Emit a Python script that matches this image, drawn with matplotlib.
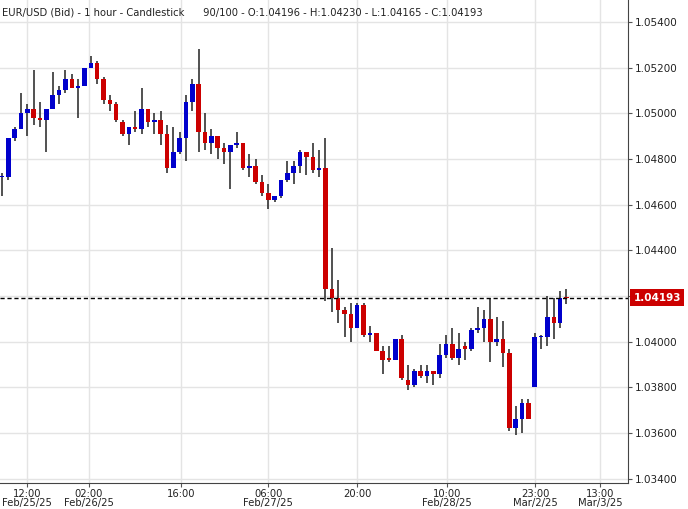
import numpy as np
import matplotlib
matplotlib.use("Agg")
import matplotlib.pyplot as plt

# -----------------------------
# Data (hourly candles)
# -----------------------------
opens = [1.0472, 1.0472, 1.0489, 1.0493, 1.0500, 1.0502, 1.0498, 1.0497, 1.0502, 1.0508,
         1.0510, 1.0515, 1.0511, 1.0512, 1.0520, 1.0522, 1.0515, 1.0506, 1.0504, 1.0496,
         1.0491, 1.0494, 1.0493, 1.0502, 1.0496, 1.0497, 1.0491, 1.0476, 1.0483, 1.0489,
         1.0505, 1.0513, 1.0492, 1.0487, 1.0490, 1.0485, 1.0483, 1.0486, 1.0487, 1.0476,
         1.0477, 1.0470, 1.0465, 1.0462, 1.0464, 1.0471, 1.0474, 1.0477, 1.0483, 1.0481,
         1.0475, 1.0476, 1.0423, 1.0419, 1.0414, 1.0412, 1.0406, 1.0416, 1.0403, 1.0404,
         1.0396, 1.0393, 1.0392, 1.0401, 1.0383, 1.0381, 1.0387, 1.0385, 1.0387, 1.0386,
         1.0394, 1.0399, 1.0393, 1.0398, 1.0397, 1.0405, 1.0406, 1.0410, 1.0400, 1.0401,
         1.0395, 1.0362, 1.0366, 1.0373, 1.0380, 1.0402, 1.0402, 1.0411, 1.0408, 1.04196]
highs = [1.0474, 1.0489, 1.0494, 1.0509, 1.0504, 1.0519, 1.0505, 1.0502, 1.0518, 1.0512,
         1.0519, 1.0517, 1.0515, 1.0520, 1.0525, 1.0523, 1.0516, 1.0508, 1.0505, 1.0497,
         1.0494, 1.0501, 1.0511, 1.0502, 1.0500, 1.0501, 1.0495, 1.0494, 1.0492, 1.0508,
         1.0515, 1.0528, 1.0500, 1.0493, 1.0490, 1.0487, 1.0486, 1.0492, 1.0487, 1.0482,
         1.0480, 1.0473, 1.0469, 1.0464, 1.0471, 1.0479, 1.0479, 1.0484, 1.0483, 1.0487,
         1.0484, 1.0489, 1.0441, 1.0427, 1.0415, 1.0417, 1.0417, 1.0417, 1.0407, 1.0404,
         1.0398, 1.0398, 1.0401, 1.0403, 1.0390, 1.0388, 1.0390, 1.0390, 1.0387, 1.0399,
         1.0403, 1.0406, 1.0404, 1.0400, 1.0406, 1.0415, 1.0414, 1.0419, 1.0411, 1.0409,
         1.0397, 1.0372, 1.0375, 1.0375, 1.0404, 1.0403, 1.0420, 1.0419, 1.0422, 1.04230]
lows = [1.0464, 1.0471, 1.0488, 1.0493, 1.0490, 1.0495, 1.0494, 1.0483, 1.0502, 1.0504,
        1.0509, 1.0511, 1.0498, 1.0512, 1.0520, 1.0513, 1.0504, 1.0501, 1.0496, 1.0490,
        1.0486, 1.0492, 1.0491, 1.0494, 1.0491, 1.0486, 1.0474, 1.0476, 1.0482, 1.0479,
        1.0501, 1.0483, 1.0484, 1.0482, 1.0480, 1.0478, 1.0467, 1.0485, 1.0475, 1.0472,
        1.0469, 1.0464, 1.0458, 1.0461, 1.0463, 1.0470, 1.0469, 1.0474, 1.0473, 1.0474,
        1.0472, 1.0418, 1.0413, 1.0408, 1.0402, 1.0400, 1.0406, 1.0402, 1.0400, 1.0396,
        1.0386, 1.0391, 1.0392, 1.0383, 1.0379, 1.0380, 1.0384, 1.0382, 1.0381, 1.0384,
        1.0393, 1.0392, 1.0390, 1.0392, 1.0396, 1.0404, 1.0400, 1.0391, 1.0398, 1.0389,
        1.0361, 1.0359, 1.0360, 1.0366, 1.0380, 1.0397, 1.0398, 1.0401, 1.0406, 1.04165]
closes = [1.0472, 1.0489, 1.0493, 1.0500, 1.0502, 1.0498, 1.0497, 1.0502, 1.0508, 1.0510,
          1.0515, 1.0511, 1.0512, 1.0520, 1.0522, 1.0515, 1.0506, 1.0504, 1.0497, 1.0491,
          1.0494, 1.0493, 1.0502, 1.0496, 1.0497, 1.0491, 1.0476, 1.0483, 1.0489, 1.0505,
          1.0513, 1.0492, 1.0487, 1.0490, 1.0485, 1.0483, 1.0486, 1.0487, 1.0476, 1.0477,
          1.0470, 1.0465, 1.0462, 1.0464, 1.0471, 1.0474, 1.0477, 1.0483, 1.0481, 1.0475,
          1.0476, 1.0423, 1.0419, 1.0414, 1.0412, 1.0406, 1.0416, 1.0403, 1.0404, 1.0396,
          1.0392, 1.0392, 1.0401, 1.0384, 1.0381, 1.0387, 1.0385, 1.0387, 1.0386, 1.0394,
          1.0399, 1.0393, 1.0397, 1.0397, 1.0405, 1.0406, 1.0410, 1.0400, 1.0401, 1.0395,
          1.0362, 1.0366, 1.0373, 1.0366, 1.0402, 1.0402, 1.0411, 1.0408, 1.0419, 1.04193]

last_price = 1.04193
title_text = "EUR/USD (Bid) - 1 hour - Candlestick      90/100 - O:1.04196 - H:1.04230 - L:1.04165 - C:1.04193"

# x tick positions (candle index) and labels
xtick_pos = [3.9, 13.7, 28.2, 42.0, 56.0, 70.1, 84.1, 94.3]
xtick_labels = ["12:00\nFeb/25/25", "02:00\nFeb/26/25", "16:00", "06:00\nFeb/27/25",
                "20:00", "10:00\nFeb/28/25", "23:00\nMar/2/25", "13:00\nMar/3/25"]
ytick_vals = [1.034, 1.036, 1.038, 1.040, 1.042, 1.044, 1.046, 1.048, 1.050, 1.052, 1.054]

# -----------------------------
# Plot
# -----------------------------
fig = plt.figure(figsize=(6.88, 5.09), dpi=100)
ax = fig.add_axes([0.0, 0.051, 0.9128, 0.949])

blue = "#0000cc"
red = "#cc0000"
idx = np.arange(len(opens))
for i in idx:
    o, h, l, c = opens[i], highs[i], lows[i], closes[i]
    col = blue if c >= o else red
    ax.vlines(i, l, h, color="#333333", linewidth=1.2, zorder=2)
    bottom = min(o, c)
    height = max(abs(c - o), 0.00004)
    ax.bar(i, height, bottom=bottom, width=0.72, color=col, zorder=3, linewidth=0)

ax.axhline(last_price, color="black", linestyle=(0, (3, 2)), linewidth=1.0, zorder=4)

ax.set_xlim(-0.32, 98.7)
ax.set_ylim(1.03381, 1.05496)

ax.set_xticks(xtick_pos)
ax.set_xticklabels(xtick_labels, fontsize=7.2, color="#222222", linespacing=0.95)
ax.set_yticks(ytick_vals)
ax.set_yticklabels([f"{v:.5f}" for v in ytick_vals], fontsize=7.5, color="#222222")
ax.yaxis.tick_right()
ax.tick_params(axis="x", length=3, color="#555555", pad=1)
ax.tick_params(axis="y", length=3, color="#555555", pad=2)
ax.grid(True, color="#e4e4e4", linewidth=1.0, zorder=0)
ax.set_axisbelow(True)

for side in ["top", "left"]:
    ax.spines[side].set_visible(False)
ax.spines["right"].set_color("#444444")
ax.spines["bottom"].set_color("#444444")

ax.text(0.003, 0.985, title_text, transform=ax.transAxes, fontsize=7.2,
        color="#222222", va="top", ha="left")

ax.annotate(f"{last_price:.5f}", xy=(1.0, last_price), xycoords=("axes fraction", "data"),
            xytext=(4, 0), textcoords="offset points", fontsize=7.5, color="white",
            fontweight="bold", va="center", ha="left", zorder=10,
            bbox=dict(boxstyle="square,pad=0.3", fc="#cc0000", ec="none"))

fig.savefig("out.png", dpi=100)
